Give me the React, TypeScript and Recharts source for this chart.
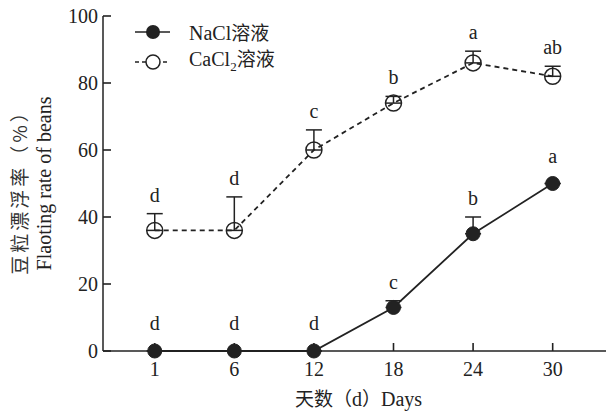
import React from "react";
import { ComposedChart, Line, Scatter, XAxis, YAxis, ErrorBar, LabelList } from "recharts";

const days = ["1", "6", "12", "18", "24", "30"];
const nacl = [0, 0, 0, 13, 35, 50];
const naclErr = [0, 0, 0, 2, 5, 0];
const naclLetters = ["d", "d", "d", "c", "b", "a"];
const cacl = [36, 36, 60, 74, 86, 82];
const caclErr = [5, 10, 6, 2, 3.5, 3];
const caclLetters = ["d", "d", "c", "b", "a", "ab"];
const yTicks = [0, 20, 40, 60, 80, 100];

const data = days.map((d, i) => ({
  i,
  day: d,
  nacl: nacl[i],
  naclErr: [0, naclErr[i]],
  naclTop: nacl[i] + naclErr[i],
  cacl: cacl[i],
  caclErr: [0, caclErr[i]],
  caclTop: cacl[i] + caclErr[i],
}));

const X_MIN = -0.65;
const X_MAX = 5.67;
// anchor points for the inward tick marks
const xTickPts = days.map((_, i) => ({ i, v: 0 }));
const yTickPts = yTicks.map((t) => ({ i: X_MIN, v: t }));

const FONT = "'Liberation Serif', 'Times New Roman', serif";
const CJK = "'Noto Sans CJK SC', sans-serif";
const INK = "#222";
const serif = { fontFamily: FONT };

const letterLabel = (letters: string[], errs: number[]) => (props: any) => {
  const { x, y, index } = props;
  const off = errs[index] > 0 ? 12 : 21;
  return (
    <text x={x} y={y - off} textAnchor="middle" style={serif} fontSize={20} fill={INK}>
      {letters[index]}
    </text>
  );
};

const XTick = (props: any) => {
  const { x, y, payload } = props;
  return (
    <text x={x} y={y} dy="0.75em" textAnchor="middle" style={serif} fontSize={20} fill={INK}>
      {days[payload.value]}
    </text>
  );
};

const YTick = (props: any) => {
  const { x, y, payload } = props;
  return (
    <text x={x + 5} y={y} dy="0.35em" textAnchor="end" style={serif} fontSize={20} fill={INK}>
      {payload.value}
    </text>
  );
};

const UpTick = (p: any) => <path d={`M${p.cx},${p.cy}V${p.cy - 8}`} stroke={INK} strokeWidth={1.6} fill="none" />;
const RightTick = (p: any) => <path d={`M${p.cx},${p.cy}H${p.cx + 8}`} stroke={INK} strokeWidth={1.6} fill="none" />;

const LegendBox = () => (
  <div
    style={{
      position: "absolute",
      left: 133,
      top: 17,
      fontFamily: FONT,
      fontSize: 20,
      color: INK,
      lineHeight: "30px",
    }}
  >
    <div style={{ display: "flex", alignItems: "center", height: 30 }}>
      <svg width={40} height={20}>
        <line x1={2} y1={10} x2={37} y2={10} stroke={INK} strokeWidth={1.5} />
        <circle cx={20} cy={10} r={7} fill={INK} />
      </svg>
      <span style={{ marginLeft: 16 }}>
        NaCl<span style={{ fontFamily: CJK, fontSize: 19 }}>溶液</span>
      </span>
    </div>
    <div style={{ display: "flex", alignItems: "center", height: 30 }}>
      <svg width={40} height={20}>
        <line x1={2} y1={10} x2={37} y2={10} stroke={INK} strokeWidth={1.5} strokeDasharray="4 3" />
        <circle cx={20} cy={10} r={7} fill="#fff" stroke={INK} strokeWidth={1.5} />
      </svg>
      <span style={{ marginLeft: 16 }}>
        CaCl<sub style={{ fontSize: 13 }}>2</sub>
        <span style={{ fontFamily: CJK, fontSize: 19 }}>溶液</span>
      </span>
    </div>
  </div>
);

export default function App() {
  return (
    <div style={{ position: "fixed", left: 0, top: 0, width: 606, height: 417, background: "#fff" }}>
      <ComposedChart width={606} height={417} data={data} margin={{ top: 16, right: 0, left: 0, bottom: 0 }}>
        <XAxis
          dataKey="i"
          type="number"
          domain={[X_MIN, X_MAX]}
          ticks={[0, 1, 2, 3, 4, 5]}
          height={66}
          stroke={INK}
          strokeWidth={1.5}
          tickLine={false}
          tickMargin={4}
          tick={<XTick />}
          allowDataOverflow
          label={(p: any) => {
            const vb = p.viewBox;
            return (
              <text x={vb.x + vb.width / 2 + 4} y={vb.y + 55} textAnchor="middle" fontSize={20} fill={INK}>
                <tspan style={{ fontFamily: CJK }} fontSize={19}>天数（</tspan>
                <tspan style={serif}>d</tspan>
                <tspan style={{ fontFamily: CJK }} fontSize={19}>）</tspan>
                <tspan style={serif}>Days</tspan>
              </text>
            );
          }}
        />
        <YAxis
          dataKey="v"
          domain={[0, 100]}
          ticks={yTicks}
          width={103}
          stroke={INK}
          strokeWidth={1.5}
          tickLine={false}
          tickMargin={4}
          tick={<YTick />}
          label={(p: any) => {
            const vb = p.viewBox;
            const cy = vb.y + vb.height / 2;
            return (
              <g>
                <text x={18} y={cy + 4} transform={`rotate(-90 18 ${cy + 4})`} textAnchor="middle" dominantBaseline="central" style={{ fontFamily: CJK, letterSpacing: 3 }} fontSize={19} fill="#333">
                  豆粒漂浮率（%）
                </text>
                <text x={44} y={cy} transform={`rotate(-90 44 ${cy})`} textAnchor="middle" dominantBaseline="central" style={serif} fontSize={20} fill={INK}>
                  Flaoting rate of beans
                </text>
              </g>
            );
          }}
        />
        <Scatter data={xTickPts} dataKey="v" shape={<UpTick />} isAnimationActive={false} legendType="none" />
        <Scatter data={yTickPts} dataKey="v" shape={<RightTick />} isAnimationActive={false} legendType="none" />
        <Line dataKey="naclTop" stroke="none" dot={false} activeDot={false} isAnimationActive={false} legendType="none">
          <LabelList dataKey="naclTop" content={letterLabel(naclLetters, naclErr)} />
        </Line>
        <Line dataKey="caclTop" stroke="none" dot={false} activeDot={false} isAnimationActive={false} legendType="none">
          <LabelList dataKey="caclTop" content={letterLabel(caclLetters, caclErr)} />
        </Line>
        <Line
          dataKey="cacl"
          stroke={INK}
          strokeWidth={1.8}
          strokeDasharray="5 4"
          dot={{ r: 8, fill: "none", stroke: INK, strokeWidth: 1.5, strokeDasharray: "" }}
          isAnimationActive={false}
        >
          <ErrorBar dataKey="caclErr" width={8} stroke={INK} strokeWidth={1.5} direction="y" />
        </Line>
        <Line
          dataKey="nacl"
          stroke={INK}
          strokeWidth={1.8}
          dot={{ r: 7, fill: INK, stroke: INK, strokeWidth: 1 }}
          isAnimationActive={false}
        >
          <ErrorBar dataKey="naclErr" width={8} stroke={INK} strokeWidth={1.5} direction="y" />
        </Line>
      </ComposedChart>
      <LegendBox />
    </div>
  );
}
